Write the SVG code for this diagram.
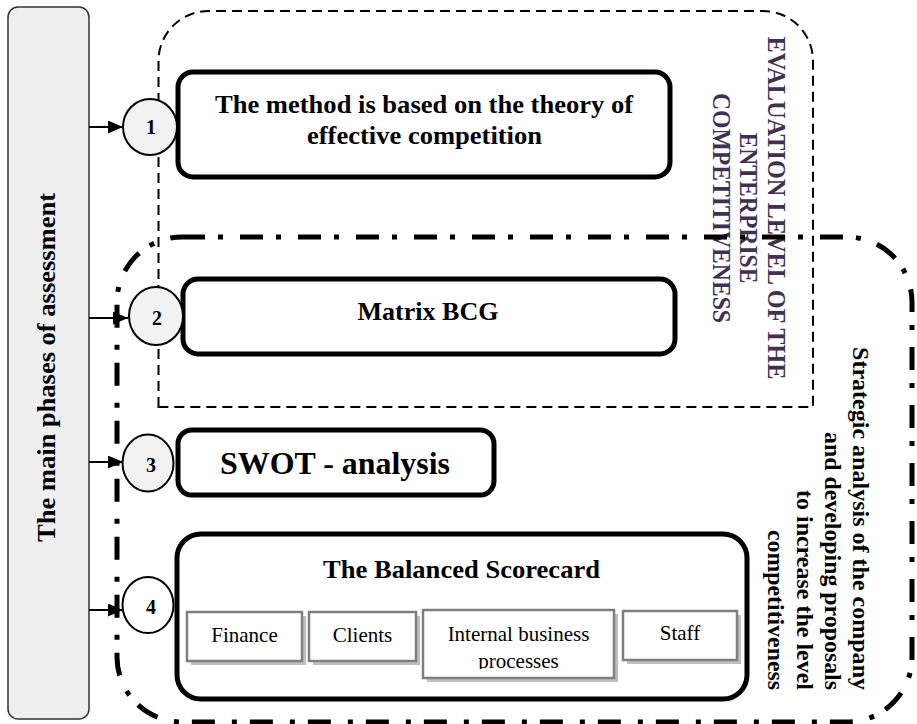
<svg xmlns="http://www.w3.org/2000/svg" width="917" height="724" viewBox="0 0 917 724">
<style>
  .serif { font-family: "Liberation Serif", "Times New Roman", serif; }
  .b { font-weight: bold; }
  .thick { fill: #ffffff; stroke: #000000; stroke-width: 5; }
  .circ { stroke: #000000; stroke-width: 2; }
  .num { font-family: "Liberation Serif", serif; font-weight: bold; font-size: 20px; text-anchor: middle; fill: #000; }
  .sub { fill: #ffffff; stroke: #7f7f7f; stroke-width: 2.5; }
  .shadow { fill: #bfbfbf; }
  .subtxt { font-family: "Liberation Serif", serif; font-size: 21px; text-anchor: middle; fill: #000; }
  .conn { stroke: #000; stroke-width: 2; fill: none; marker-end: url(#arrow); }
  .evl { font-family: "Liberation Serif", serif; font-weight: bold; font-size: 25px; fill: #3f3151; text-anchor: middle; }
  .str { font-family: "Liberation Serif", serif; font-weight: bold; font-size: 24px; fill: #000; text-anchor: end; }
</style>
<defs>
  <marker id="arrow" markerUnits="userSpaceOnUse" markerWidth="15" markerHeight="13" refX="15" refY="6.5" orient="auto">
    <path d="M0,0 L15,6.5 L0,13 z" fill="#000"/>
  </marker>
  <clipPath id="clipInternal">
    <rect x="423" y="610" width="191" height="59"/>
  </clipPath>
</defs>

<g id="evaluation-frame">
  <path d="M158.5,407 V61 A50,50 0 0 1 208.5,11 H763 A50,50 0 0 1 813,61 V407 Z" fill="none" stroke="#000" stroke-width="2" stroke-dasharray="10 6"/>
  <g transform="translate(768,208) rotate(90)">
    <text class="evl" x="0" y="0" textLength="343" lengthAdjust="spacingAndGlyphs">EVALUATION LEVEL  OF THE</text>
    <text class="evl" x="0" y="28" textLength="151" lengthAdjust="spacingAndGlyphs">ENTERPRISE</text>
    <text class="evl" x="0" y="55" textLength="230" lengthAdjust="spacingAndGlyphs">COMPETITIVENESS</text>
  </g>
</g>

<g id="strategic-frame">
  <g transform="translate(853,690) rotate(90)">
    <text class="str" x="0" y="0" textLength="343" lengthAdjust="spacingAndGlyphs">Strategic analysis of the company</text>
    <text class="str" x="0" y="28" textLength="258" lengthAdjust="spacingAndGlyphs">and developing proposals</text>
    <text class="str" x="0" y="56" textLength="200" lengthAdjust="spacingAndGlyphs">to increase the level</text>
    <text class="str" x="0" y="85" textLength="160" lengthAdjust="spacingAndGlyphs">competitiveness</text>
  </g>
  <rect x="117" y="237" width="795" height="485" rx="65" ry="65" fill="none" stroke="#000" stroke-width="5" stroke-dasharray="23 13 5 17"/>
</g>

<g id="main-phases">
  <rect x="8" y="7" width="81" height="712" rx="10" ry="10" fill="#efefef" stroke="#333" stroke-width="1.5"/>
  <text class="serif b" transform="translate(55,367.5) rotate(-90)" x="0" y="0" font-size="26" text-anchor="middle" textLength="349" lengthAdjust="spacingAndGlyphs">The main phases of assessment</text>
</g>

<g id="connectors">
  <path class="conn" d="M89,127 H123"/>
  <path class="conn" d="M89,318 H128"/>
  <path class="conn" d="M89,462 H123"/>
  <path class="conn" d="M89,610 H123"/>
</g>

<g id="phase1">
  <rect class="thick" x="178" y="72" width="492" height="105" rx="15" ry="15"/>
  <text class="serif b" x="424" y="113" font-size="25" text-anchor="middle" textLength="418" lengthAdjust="spacingAndGlyphs">The method is based on the theory of</text>
  <text class="serif b" x="424.5" y="144" font-size="25" text-anchor="middle" textLength="235" lengthAdjust="spacingAndGlyphs">effective competition</text>
</g>
<g id="circle1">
  <ellipse class="circ" cx="150" cy="127" rx="27" ry="28" fill="#f2f2f2"/>
  <text class="num" x="151" y="134">1</text>
</g>

<g id="phase2">
  <rect class="thick" x="183" y="279" width="492" height="75" rx="15" ry="15"/>
  <text class="serif b" x="428" y="320" font-size="26" text-anchor="middle" textLength="141" lengthAdjust="spacingAndGlyphs">Matrix BCG</text>
</g>
<g id="circle2">
  <ellipse class="circ" cx="156" cy="316" rx="27" ry="29" fill="#f2f2f2"/>
  <text class="num" x="157" y="325">2</text>
</g>

<g id="phase3">
  <rect class="thick" x="178" y="430" width="316" height="65" rx="14" ry="14"/>
  <text class="serif b" x="335" y="474" font-size="32" text-anchor="middle" textLength="230" lengthAdjust="spacingAndGlyphs">SWOT - analysis</text>
</g>
<g id="circle3">
  <ellipse class="circ" cx="148" cy="463" rx="25.5" ry="28.5" fill="#f2f2f2"/>
  <text class="num" x="151" y="472">3</text>
</g>

<g id="phase4">
  <rect class="thick" x="177" y="534" width="570" height="165" rx="24" ry="24"/>
  <text class="serif b" x="461.5" y="578" font-size="26" text-anchor="middle" textLength="277" lengthAdjust="spacingAndGlyphs">The Balanced Scorecard</text>
  <g id="finance">
    <rect class="shadow" x="191" y="616" width="115" height="49"/>
    <rect class="sub" x="187" y="612" width="115" height="49"/>
    <text class="subtxt" x="244.5" y="642">Finance</text>
  </g>
  <g id="clients">
    <rect class="shadow" x="313" y="616" width="107" height="49"/>
    <rect class="sub" x="309" y="612" width="107" height="49"/>
    <text class="subtxt" x="362.5" y="642">Clients</text>
  </g>
  <g id="internal">
    <rect class="shadow" x="427" y="614" width="191" height="68"/>
    <rect class="sub" x="423" y="610" width="191" height="68"/>
    <text class="subtxt" x="518.5" y="641">Internal business</text>
    <text class="subtxt" x="518.5" y="668" clip-path="url(#clipInternal)">processes</text>
  </g>
  <g id="staff">
    <rect class="shadow" x="627" y="615" width="114" height="49"/>
    <rect class="sub" x="623" y="611" width="114" height="49"/>
    <text class="subtxt" x="680" y="640">Staff</text>
  </g>
</g>
<g id="circle4">
  <ellipse class="circ" cx="148" cy="605" rx="25.5" ry="28" fill="#ffffff"/>
  <text class="num" x="151" y="614">4</text>
</g>
</svg>
